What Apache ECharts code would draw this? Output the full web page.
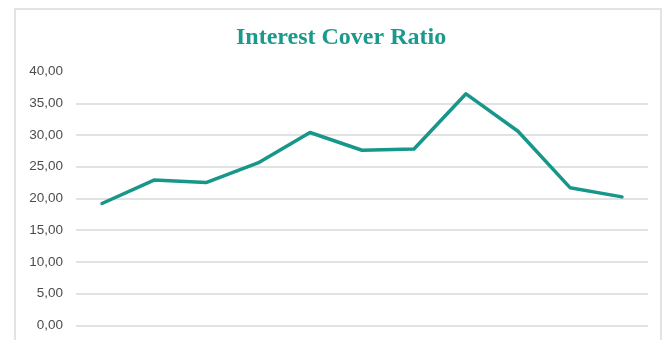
<!DOCTYPE html>
<html>
<head>
<meta charset="utf-8">
<script src="https://cdn.jsdelivr.net/npm/echarts@6/dist/echarts.min.js"></script>
<style>
  html, body { margin: 0; padding: 0; background: #ffffff; }
  #wrap { position: relative; width: 669px; height: 340px; overflow: hidden; }
  #chart { position: absolute; left: 0; top: 0; width: 669px; height: 340px; }
  #frame {
    position: absolute; left: 14px; top: 8px; width: 648px; height: 360px;
    border: 2px solid #e3e3e3; box-sizing: border-box; pointer-events: none;
  }
</style>
</head>
<body>
<div id="wrap">
  <div id="chart"></div>
  <div id="frame"></div>
</div>
<script>
// Periods along the horizontal axis (labels fall below the visible area)
const periods = ['1', '2', '3', '4', '5', '6', '7', '8', '9', '10', '11'];
// Interest cover ratio per period
const coverRatio = [19.2, 22.9, 22.5, 25.6, 30.4, 27.6, 27.8, 36.5, 30.6, 21.7, 20.25];
// Value axis range and step
const yMin = 0;
const yMax = 40;
const yStep = 5;

const chart = echarts.init(document.getElementById('chart'), null, { renderer: 'canvas' });

chart.setOption({
  animation: false,
  backgroundColor: '#ffffff',
  title: {
    text: 'Interest Cover Ratio',
    left: 231,
    top: 21,
    textStyle: {
      fontFamily: '"Liberation Serif", "DejaVu Serif", serif',
      fontWeight: 'bold',
      fontSize: 24,
      color: '#1a998c'
    }
  },
  grid: { left: 76, width: 572, top: 71.6, bottom: 14.7, containLabel: false },
  xAxis: {
    type: 'category',
    data: periods,
    boundaryGap: true,
    axisLine: { show: false },
    axisTick: { show: false },
    axisLabel: { show: false },
    splitLine: { show: false }
  },
  yAxis: {
    type: 'value',
    min: yMin,
    max: yMax,
    interval: yStep,
    axisLine: { show: false },
    axisTick: { show: false },
    axisLabel: {
      margin: 13,
      fontFamily: '"Liberation Sans", Arial, sans-serif',
      fontSize: 13.5,
      color: '#4d4d4d',
      formatter: v => v.toFixed(2).replace('.', ',')
    },
    splitLine: {
      show: true,
      showMaxLine: false,
      lineStyle: { color: '#d9d9d9', width: 1.5 }
    }
  },
  series: [{
    type: 'line',
    data: coverRatio,
    showSymbol: false,
    symbol: 'none',
    lineStyle: { color: '#17968a', width: 3.5, join: 'round', cap: 'round' },
    itemStyle: { color: '#17968a' }
  }]
});
</script>
</body>
</html>
